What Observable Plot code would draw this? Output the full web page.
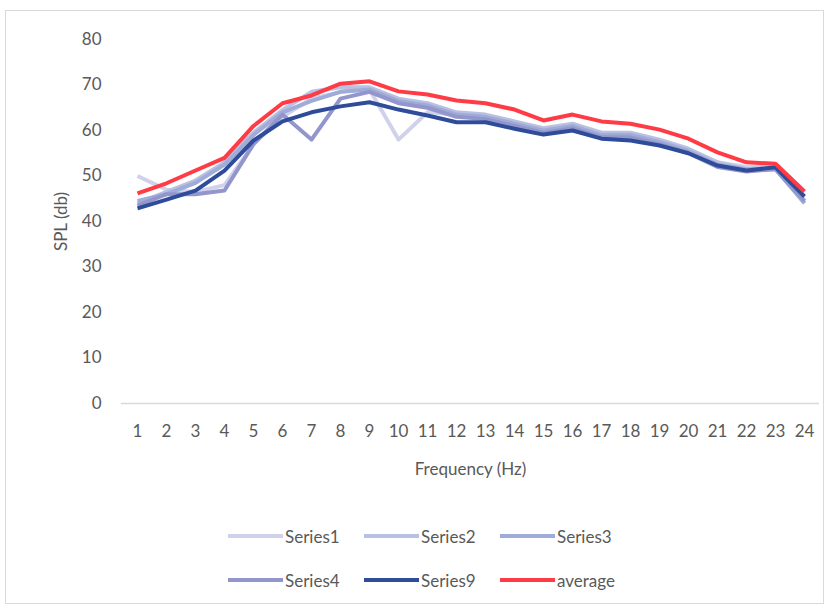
<!DOCTYPE html>
<html>
<head>
<meta charset="utf-8">
<script src="https://cdn.jsdelivr.net/npm/d3@7"></script>
<script src="https://cdn.jsdelivr.net/npm/@observablehq/plot@0.6"></script>
<style>
  html, body { margin: 0; padding: 0; background: #fff; }
  #wrap { position: relative; width: 829px; height: 608px; overflow: hidden; font-family: Lato, "Open Sans", sans-serif; }
  #frame { position: absolute; left: 5px; top: 10px; width: 819px; height: 594px; border: 1px solid #d9d9d9; box-sizing: border-box; }
  #chart { position: absolute; left: 0; top: 0; }
  #legend { position: absolute; left: 228px; top: 514px; width: 420px; color: #595959; font-size: 17px; }
  .row { display: flex; height: 44px; align-items: center; }
  .item { display: flex; align-items: center; width: 136px; }
  .sw { width: 55px; height: 4px; margin-right: 2px; }
</style>
</head>
<body>
<div id="wrap">
  <div id="frame"></div>
  <div id="chart"></div>
  <div id="legend"></div>
</div>
<script>
const frequencies = d3.range(1, 25);
const yTicks = [0, 10, 20, 30, 40, 50, 60, 70, 80];
const seriesNames = ["Series1", "Series2", "Series3", "Series4", "Series9", "average"];
const seriesColors = ["#cfd2ea", "#b9c0e2", "#a0acd8", "#9296cc", "#2e4c9a", "#ff3b46"];

const series1 = [50, 47, 46.5, 48, 57, 63, 67, 68.5, 69, 58, 64, 63.5, 63, 61.5, 60, 61, 59.5, 59, 57.5, 55.5, 53, 52, 52, 44];
const series2 = [44, 46.5, 49, 53, 59.5, 64.5, 68.5, 69.5, 69.5, 67, 66, 64, 63.5, 62, 60.5, 61.5, 59.5, 59.5, 58, 56, 53, 51.5, 52, 44.5];
const series3 = [44.5, 46, 48.5, 52.5, 59, 64, 66.5, 68.5, 69, 66.5, 65.5, 63.5, 63, 61.5, 60, 61, 59, 59, 57.5, 55.5, 52.5, 51.5, 51.5, 44];
const series4 = [43.5, 46, 46, 46.8, 57, 63.5, 58, 67, 68.5, 66, 65, 63, 62.5, 61, 59.5, 60.5, 58.5, 58.5, 57, 55, 52, 51, 51.5, 44.5];
const series9 = [42.9, 44.8, 46.8, 51.2, 57.8, 62, 64, 65.3, 66.2, 64.6, 63.3, 61.8, 61.8, 60.4, 59.1, 60, 58.2, 57.8, 56.7, 55, 52.3, 51.2, 51.9, 45.5];
const average = [46.2, 48.4, 51.2, 54, 61, 66, 67.7, 70.3, 70.8, 68.6, 67.9, 66.6, 66, 64.6, 62.2, 63.5, 62, 61.5, 60.2, 58.2, 55.2, 53, 52.7, 46.6];

const allValues = [series1, series2, series3, series4, series9, average];
const rows = [];
seriesNames.forEach((name, i) => {
  frequencies.forEach((f, j) => rows.push({series: name, freq: f, spl: allValues[i][j]}));
});

const plot = Plot.plot({
  width: 829,
  height: 490,
  marginTop: 39,
  marginBottom: 87,
  marginLeft: 121,
  marginRight: 10,
  style: {fontFamily: "Lato, 'Open Sans', sans-serif", fontSize: "17px", color: "#595959", background: "transparent"},
  x: {type: "point", domain: frequencies, padding: 0.5, align: 0.5},
  y: {domain: [0, 80]},
  color: {domain: seriesNames, range: seriesColors},
  marks: [
    Plot.ruleY([0], {stroke: "#d9d9d9", strokeWidth: 1.5}),
    Plot.axisY({ticks: yTicks, tickSize: 0, tickPadding: 20, label: "SPL (db)", labelAnchor: "center", labelOffset: 67, labelArrow: "none", fill: "#595959"}),
    Plot.axisX({tickSize: 0, tickPadding: 21, label: "Frequency (Hz)", labelAnchor: "center", labelOffset: 71, labelArrow: "none", fill: "#595959"}),
    Plot.line(rows, {x: "freq", y: "spl", z: "series", stroke: "series", strokeWidth: 4, strokeLinejoin: "round", strokeLinecap: "butt"})
  ]
});
document.getElementById("chart").appendChild(plot);

const legend = document.getElementById("legend");
[[0, 1, 2], [3, 4, 5]].forEach(idx => {
  const row = document.createElement("div");
  row.className = "row";
  idx.forEach(i => {
    const item = document.createElement("div");
    item.className = "item";
    const sw = document.createElement("span");
    sw.className = "sw";
    sw.style.background = seriesColors[i];
    const t = document.createElement("span");
    t.textContent = seriesNames[i];
    item.appendChild(sw);
    item.appendChild(t);
    row.appendChild(item);
  });
  legend.appendChild(row);
});
</script>
</body>
</html>
